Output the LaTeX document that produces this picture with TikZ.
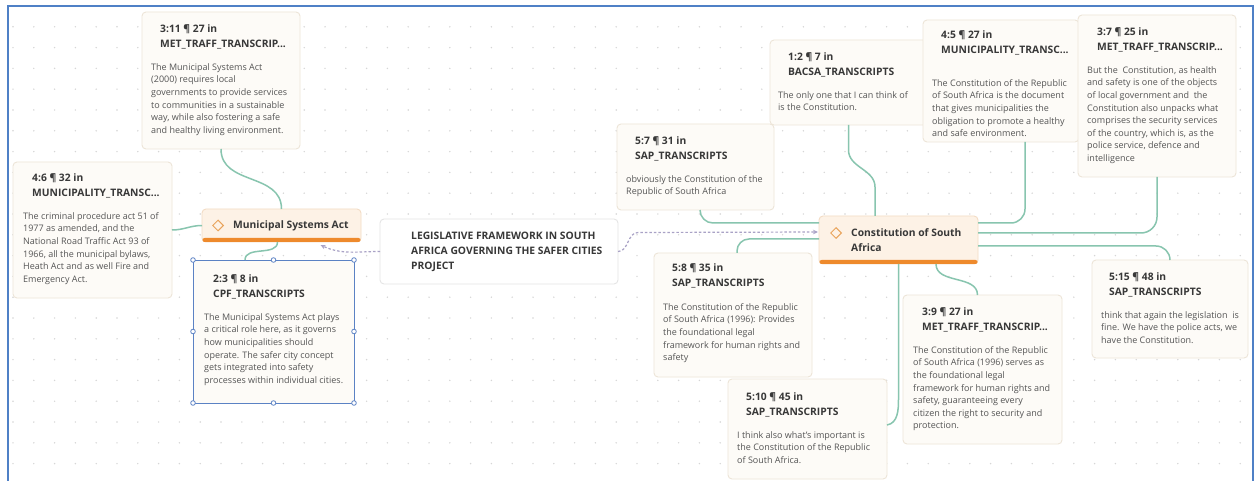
\documentclass[tikz,border=0pt]{standalone}
\usepackage{fontspec}
\setmainfont{Open Sans}
\usetikzlibrary{calc,arrows.meta,shapes.geometric}
\definecolor{cardfill}{HTML}{FDFBF7}
\definecolor{cardline}{HTML}{EDE5D8}
\definecolor{nodefill}{HTML}{FDF2E6}
\definecolor{nodeline}{HTML}{F3DCC5}
\definecolor{barcol}{HTML}{EE8A2C}
\definecolor{diamcol}{HTML}{E9A45C}
\definecolor{conncol}{HTML}{88C5AF}
\definecolor{dashcol}{HTML}{A9A2C6}
\definecolor{framecol}{HTML}{4F80C6}
\definecolor{selcol}{HTML}{5B82C4}
\definecolor{dotcol}{HTML}{D6D6D6}
\definecolor{ttlcol}{HTML}{383838}
\definecolor{bdycol}{HTML}{555555}
\newcommand\qttl{\fontsize{10.3}{14.8}\selectfont\bfseries}
\newcommand\qbdy{\fontsize{9}{12.6}\selectfont}
\begin{document}
\begin{tikzpicture}[x=1pt,y=1pt,
 card/.style={draw=cardline, fill=cardfill, rounded corners=4pt, line width=0.9pt, anchor=north west, inner sep=0pt, outer sep=0pt},
 ttl/.style={anchor=north west, inner sep=0pt, align=left, font=\qttl, text=ttlcol},
 bdy/.style={anchor=north west, inner sep=0pt, align=left, font=\qbdy, text=bdycol},
 codebox/.style={draw=nodeline, fill=nodefill, rounded corners=4pt, line width=0.9pt, anchor=north west, inner sep=0pt, outer sep=0pt},
 conn/.style={draw=conncol, line width=1.5pt},
 dsh/.style={draw=dashcol, line width=1.2pt, dash pattern=on 2.5pt off 2pt, -{Stealth[length=5pt,width=4.5pt]}},
 diam/.style={diamond, draw=diamcol, line width=1pt, minimum size=11pt, inner sep=0pt},
 handle/.style={draw=selcol, fill=white, line width=0.8pt},
]
\useasboundingbox (0,0) rectangle (1256,-481);
\fill[white] (0,0) rectangle (1256,-481);
\foreach \i in {0,...,59}{\foreach \j in {1,...,22}{\fill[dotcol] ({13+20.8*\i},{-6-20.8*\j}) circle (0.8pt);}}
\draw[framecol, line width=2pt] (8,-485) -- (8,-6) -- (1253,-6) -- (1253,-485);

% cards
\node[card, minimum width=158pt, minimum height=137pt] (A) at (142,-12) {};
\node[card, minimum width=159pt, minimum height=136pt] (B) at (13,-162) {};
\node[card, draw=selcol, rounded corners=0pt, line width=0.8pt, minimum width=161pt, minimum height=143pt] (C) at (193,-260) {};
\node[card, draw=black!10, fill=white, minimum width=238pt, minimum height=65pt] (LEG) at (380,-219) {};
\node[card, minimum width=157pt, minimum height=86pt] (S7) at (617,-124) {};
\node[card, minimum width=157pt, minimum height=85pt] (S12) at (770,-40) {};
\node[card, minimum width=156pt, minimum height=122pt] (S45) at (923,-20) {};
\node[card, minimum width=158pt, minimum height=162pt] (S37) at (1078,-15) {};
\node[card, minimum width=158pt, minimum height=124pt] (S8) at (654,-253) {};
\node[card, minimum width=159pt, minimum height=100pt] (S510) at (728,-379) {};
\node[card, minimum width=159pt, minimum height=149pt] (S39) at (903,-295) {};
\node[card, minimum width=156pt, minimum height=98pt] (S515) at (1092,-260) {};
\node[codebox, minimum width=159pt, minimum height=33pt] (MSA) at (202,-209) {};
\node[codebox, minimum width=159pt, minimum height=48pt] (CON) at (819,-216) {};
\fill[barcol, rounded corners=2pt] ($(MSA.south west)+(0.5,0)$) rectangle ($(MSA.south east)+(-0.5,4)$);
\fill[barcol, rounded corners=2pt] ($(CON.south west)+(0.5,0)$) rectangle ($(CON.south east)+(-0.5,4)$);
\foreach \a in {north west,north,north east,east,south east,south,south west,west}{\draw[handle] (C.\a) circle (2.3pt);}

% texts
\node[ttl] (At) at (160,-22.3) {\strut 3:11 ¶ 27 in\\MET\_TRAFF\_TRANSCRIP...};
\node[bdy] (Ab) at (151,-61.2) {\strut The Municipal Systems Act\\(2000) requires local\\governments to provide services\\to communities in a sustainable\\way, while also fostering a safe\\and healthy living environment.};
\node[ttl] (Bt) at (32,-171.3) {\strut 4:6 ¶ 32 in\\MUNICIPALITY\_TRANSC...};
\node[bdy] (Bb) at (23,-210.2) {\strut The criminal procedure act 51 of\\1977 as amended, and the\\National Road Traffic Act 93 of\\1966, all the municipal bylaws,\\Heath Act and as well Fire and\\Emergency Act.};
\node[ttl] (Ct) at (213,-272.3) {\strut 2:3 ¶ 8 in\\CPF\_TRANSCRIPTS};
\node[bdy] (Cb) at (204,-311.2) {\strut The Municipal Systems Act plays\\a critical role here, as it governs\\how municipalities should\\operate. The safer city concept\\gets integrated into safety\\processes within individual cities.};
\node[ttl] (LEGt) at (411,-229.3) {\strut LEGISLATIVE FRAMEWORK IN SOUTH\\AFRICA GOVERNING THE SAFER CITIES\\PROJECT};
\node[ttl] (S7t) at (635,-134.3) {\strut 5:7 ¶ 31 in\\SAP\_TRANSCRIPTS};
\node[bdy] (S7b) at (626,-173.2) {\strut obviously the Constitution of the\\Republic of South Africa};
\node[ttl] (S12t) at (788,-50.3) {\strut 1:2 ¶ 7 in\\BACSA\_TRANSCRIPTS};
\node[bdy] (S12b) at (778,-89.2) {\strut The only one that I can think of\\is the Constitution.};
\node[ttl] (S45t) at (941,-28.3) {\strut 4:5 ¶ 27 in\\MUNICIPALITY\_TRANSC...};
\node[bdy] (S45b) at (932,-77.2) {\strut The Constitution of the Republic\\of South Africa is the document\\that gives municipalities the\\obligation to promote a healthy\\and safe environment.};
\node[ttl] (S37t) at (1097,-25.3) {\strut 3:7 ¶ 25 in\\MET\_TRAFF\_TRANSCRIP...};
\node[bdy] (S37b) at (1087,-64.2) {\strut But the\ \ Constitution, as health\\and safety is one of the objects\\of local government and\ \ the\\Constitution also unpacks what\\comprises the security services\\of the country, which is, as the\\police service, defence and\\intelligence};
\node[ttl] (S8t) at (672,-261.3) {\strut 5:8 ¶ 35 in\\SAP\_TRANSCRIPTS};
\node[bdy] (S8b) at (663,-301.2) {\strut The Constitution of the Republic\\of South Africa (1996): Provides\\the foundational legal\\framework for human rights and\\safety};
\node[ttl] (S510t) at (746,-390.3) {\strut 5:10 ¶ 45 in\\SAP\_TRANSCRIPTS};
\node[bdy] (S510b) at (737,-429.2) {\strut I think also what’s important is\\the Constitution of the Republic\\of South Africa.};
\node[ttl] (S39t) at (922,-305.3) {\strut 3:9 ¶ 27 in\\MET\_TRAFF\_TRANSCRIP...};
\node[bdy] (S39b) at (913,-344.2) {\strut The Constitution of the Republic\\of South Africa (1996) serves as\\the foundational legal\\framework for human rights and\\safety, guaranteeing every\\citizen the right to security and\\protection.};
\node[ttl] (S515t) at (1109,-270.3) {\strut 5:15 ¶ 48 in\\SAP\_TRANSCRIPTS};
\node[bdy] (S515b) at (1101,-309.2) {\strut think that again the legislation\ \ is\\fine. We have the police acts, we\\have the Constitution.};

\node[diam] (MSAd) at (218,-225.5) {};
\node[anchor=west, inner sep=0pt, font=\qttl, text=ttlcol] (MSAt) at (233,-225.5) {Municipal Systems Act};
\node[diam] (CONd) at (836,-233) {};
\node[ttl] (CONt) at (851,-226.3) {\strut Constitution of South\\Africa};

% connectors
\draw[conn] (A.south) to[out=-90,in=90,looseness=1.1] (MSA.north);
\draw[conn] (B.east) to[out=0,in=180] (MSA.west);
\draw[conn] ($(MSA.south)+(-4,0)$) to[out=-90,in=90] ($(C.north)+(-28.5,0)$);
\draw[dsh] (LEG.west) to[out=180,in=-25] ($(MSA.south)+(39,-3)$);
\draw[dsh] (LEG.east) to[out=0,in=180] ($(LEG.east)+(20,19)$) -- ($(CON.west)+(-1,8)$);
\draw[conn, rounded corners=13pt] ($(S7.south)+(4.5,0)$) |- ($(CON.west)+(0,17)$);
\draw[conn, rounded corners=12pt] ($(CON.west)+(0,1)$) -| ($(S8.north)+(4,0)$);
\draw[conn] (S12.south) -- ++(0,-25) to[out=-90,in=90] ++(26.5,-37) -- ($(CON.north)+(-23.5,0)$);
\draw[conn, rounded corners=14pt] ($(S45.south)+(24,0)$) |- ($(CON.east)+(0,17)$);
\draw[conn, rounded corners=16pt] (S37.south) |- ($(CON.east)+(0,7)$);
\draw[conn, rounded corners=14pt] ($(CON.east)+(0,-6)$) -| (S515.north);
\draw[conn] (CON.south) -- ++(0,-135) to[out=-90,in=10] ($(S510.east)+(0,4)$);
\draw[conn] ($(CON.south)+(37.5,0)$) to[out=-90,in=90] ($(S39.north)+(-5,0)$);
\end{tikzpicture}
\end{document}
